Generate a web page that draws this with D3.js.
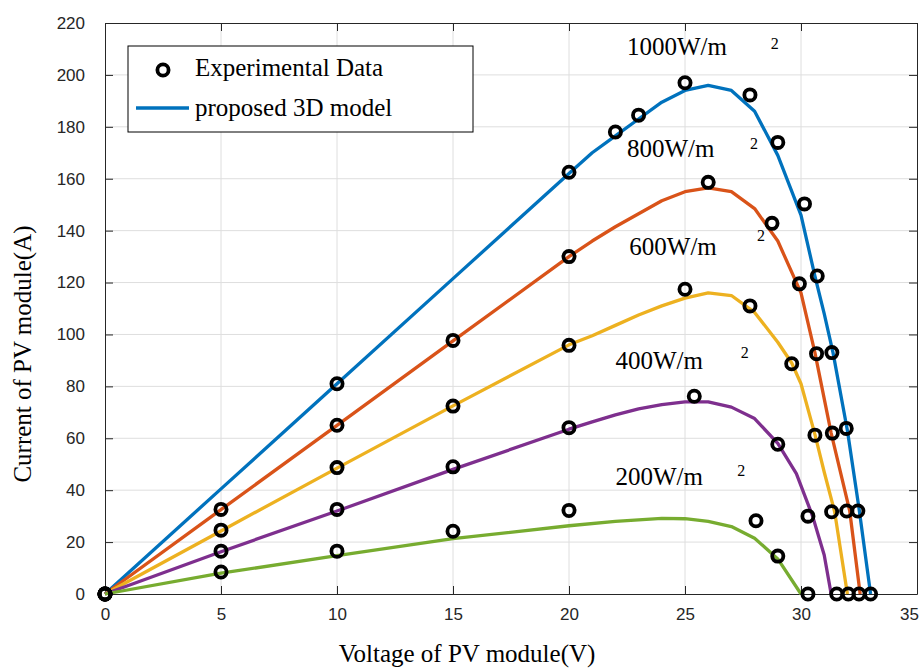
<!DOCTYPE html>
<html>
<head>
<meta charset="utf-8">
<script src="https://cdn.jsdelivr.net/npm/d3@7"></script>
<style>
  body { margin: 0; background: #fff; }
  .tick text { font-family: "Liberation Sans", Arial, sans-serif; font-size: 17px; fill: #262626; }
  .serif { font-family: "Liberation Serif", "Times New Roman", serif; fill: #000; }
</style>
</head>
<body>
<div id="chart"></div>
<script>
var svgWidth = 924;
var svgHeight = 668;

var margin = { top: 23, right: 7, bottom: 74, left: 105 };
var width = svgWidth - margin.left - margin.right;
var height = svgHeight - margin.top - margin.bottom;

// tick values
var xTicks = [0, 5, 10, 15, 20, 25, 30, 35];
var yTicks = [0, 20, 40, 60, 80, 100, 120, 140, 160, 180, 200, 220];

// irradiance levels
var levels = ["1000W/m", "800W/m", "600W/m", "400W/m", "200W/m"];
var colors = ["#0072BD", "#D95319", "#EDB120", "#7E2F8E", "#77AC30"];

// model curves [V, I]
var model1000 = [[0,0],[5,40.5],[10,81],[15,121.5],[20,162],[21,170],[22,176.5],[23,183],[24,189.5],[25,194],[26,196],[27,194],[28,186],[29,169],[30,146],[30.6,122.5],[31,108],[31.38,93],[32,63],[32.5,33],[33,0]];
var model800 = [[0,0],[5,32.5],[10,65],[15,97.5],[20,130],[21,136],[22,141.5],[23,146.5],[24,151.5],[25,155],[26,156.5],[27,155],[28,148.5],[29,136],[30,116],[30.6,93],[31.3,62],[32.1,32],[32.55,0]];
var model600 = [[0,0],[5,24.3],[10,48.5],[15,72.5],[20,96],[21,99.5],[22,103.5],[23,107.5],[24,111],[25,114],[26,116],[27,115],[28,108.5],[29,97],[29.6,89],[30,81],[30.6,61.5],[31,47],[31.45,31.7],[32,0]];
var model400 = [[0,0],[5,16.3],[10,32],[15,48],[20,63.5],[21,66.3],[22,69],[23,71.3],[24,73],[25,74],[26,74],[27,72],[28,67.6],[29,58],[29.8,46.4],[30.5,30],[31,15],[31.3,0]];
var model200 = [[0,0],[5,8],[10,14.8],[15,21.3],[20,26.3],[22,28],[24,29.1],[25,29],[26,28],[27,26],[28,21.5],[29,13.5],[30,0]];

// experimental points [V, I]
var exp1000 = [[0,0],[10,81],[20,162.5],[22,178],[23,184.5],[25,197],[27.8,192.3],[29,174],[30.15,150.3],[30.7,122.5],[31.33,93],[31.95,63.8],[32.45,32],[33,0]];
var exp800 = [[0,0],[5,32.6],[10,65],[15,97.7],[20,130],[26,158.6],[28.75,142.8],[29.93,119.5],[30.67,92.6],[31.35,62],[31.97,32],[32.5,0]];
var exp600 = [[0,0],[5,24.6],[10,48.7],[15,72.4],[20,95.8],[25,117.4],[27.8,111],[29.6,88.7],[30.6,61.2],[31.32,31.7],[32.04,0]];
var exp400 = [[0,0],[5,16.5],[10,32.6],[15,49],[20,64.1],[25.4,76.2],[29,57.7],[30.3,30],[31.54,0]];
var exp200 = [[0,0],[5,8.5],[10,16.5],[15,24.2],[20,32.2],[28.06,28.2],[29,14.6],[30.3,0]];

var models = [model1000, model800, model600, model400, model200];
var exps = [exp1000, exp800, exp600, exp400, exp200];

// label anchors in data units [V, I] for "xxxW/m" and its "2"
var labelPos = [[22.5, 207.5], [22.5, 168.5], [22.6, 130.5], [22.0, 86.5], [22.0, 42]];
var supPos = [[28.7, 210], [27.8, 171.5], [28.1, 136], [27.4, 91], [27.25, 45.5]];

var svg = d3.select("#chart")
  .append("svg")
  .attr("width", svgWidth)
  .attr("height", svgHeight);

var chartGroup = svg.append("g")
  .attr("transform", `translate(${margin.left}, ${margin.top})`);

var xLinearScale = d3.scaleLinear().domain([0, 35]).range([0, width]);
var yLinearScale = d3.scaleLinear().domain([0, 220]).range([height, 0]);

// grid
chartGroup.append("g")
  .selectAll("line")
  .data(xTicks.slice(1, -1))
  .enter()
  .append("line")
  .attr("x1", d => xLinearScale(d)).attr("x2", d => xLinearScale(d))
  .attr("y1", 0).attr("y2", height)
  .attr("stroke", "#dedede").attr("stroke-width", 1);

chartGroup.append("g")
  .selectAll("line")
  .data(yTicks.slice(1, -1))
  .enter()
  .append("line")
  .attr("x1", 0).attr("x2", width)
  .attr("y1", d => yLinearScale(d)).attr("y2", d => yLinearScale(d))
  .attr("stroke", "#dedede").attr("stroke-width", 1);

// axes
var bottomAxis = d3.axisBottom(xLinearScale).tickValues(xTicks).tickSizeInner(-8).tickSizeOuter(0).tickPadding(14);
var leftAxis = d3.axisLeft(yLinearScale).tickValues(yTicks).tickSizeInner(-8).tickSizeOuter(0).tickPadding(20);
var topAxis = d3.axisTop(xLinearScale).tickValues(xTicks).tickSizeInner(-8).tickSizeOuter(0).tickFormat("");
var rightAxis = d3.axisRight(yLinearScale).tickValues(yTicks).tickSizeInner(-8).tickSizeOuter(0).tickFormat("");

var xAxisG = chartGroup.append("g").attr("transform", `translate(0, ${height})`).call(bottomAxis);
[
  xAxisG,
  chartGroup.append("g").call(leftAxis),
  chartGroup.append("g").call(topAxis),
  chartGroup.append("g").attr("transform", `translate(${width}, 0)`).call(rightAxis)
].forEach(function(g) {
  g.selectAll("path, line").attr("stroke", "#262626").attr("stroke-width", 1);
});

// last x label sits a little inside the figure edge, as in the original
xAxisG.selectAll(".tick text")
  .filter(d => d === 35)
  .attr("dx", -8);

// model lines
var line = d3.line()
  .x(d => xLinearScale(d[0]))
  .y(d => yLinearScale(d[1]));

chartGroup.selectAll("path.model")
  .data(models)
  .enter()
  .append("path")
  .attr("class", "model")
  .attr("d", line)
  .attr("fill", "none")
  .attr("stroke", (d, i) => colors[i])
  .attr("stroke-width", 3.3)
  .attr("stroke-linejoin", "round");

// experimental circles
exps.forEach(function(pts) {
  chartGroup.selectAll(null)
    .data(pts)
    .enter()
    .append("circle")
    .attr("cx", d => xLinearScale(d[0]))
    .attr("cy", d => yLinearScale(d[1]))
    .attr("r", 5.6)
    .attr("fill", "none")
    .attr("stroke", "#000")
    .attr("stroke-width", 3.8);
});

// irradiance labels
chartGroup.selectAll("text.lvl")
  .data(levels)
  .enter()
  .append("text")
  .attr("class", "serif")
  .attr("x", (d, i) => xLinearScale(labelPos[i][0]))
  .attr("y", (d, i) => yLinearScale(labelPos[i][1]))
  .style("font-size", "25px")
  .text(d => d);

chartGroup.selectAll("text.sup")
  .data(levels)
  .enter()
  .append("text")
  .attr("class", "serif")
  .attr("x", (d, i) => xLinearScale(supPos[i][0]))
  .attr("y", (d, i) => yLinearScale(supPos[i][1]))
  .style("font-size", "16px")
  .text("2");

// legend
var legend = svg.append("g");
legend.append("rect")
  .attr("x", 128).attr("y", 46)
  .attr("width", 345).attr("height", 86)
  .attr("fill", "#fff")
  .attr("stroke", "#000")
  .attr("stroke-width", 1);
legend.append("circle")
  .attr("cx", 163).attr("cy", 70).attr("r", 5.6)
  .attr("fill", "none").attr("stroke", "#000").attr("stroke-width", 3.8);
legend.append("line")
  .attr("x1", 136).attr("x2", 189).attr("y1", 108).attr("y2", 108)
  .attr("stroke", colors[0]).attr("stroke-width", 3.3);
legend.append("text").attr("class", "serif")
  .attr("x", 195).attr("y", 76).style("font-size", "25px")
  .text("Experimental Data");
legend.append("text").attr("class", "serif")
  .attr("x", 195).attr("y", 116).style("font-size", "25px")
  .text("proposed 3D model");

// axis labels
svg.append("text")
  .attr("class", "serif")
  .attr("text-anchor", "middle")
  .attr("transform", "translate(467, 662)")
  .style("font-size", "25px")
  .text("Voltage of PV module(V)");

svg.append("text")
  .attr("class", "serif")
  .attr("text-anchor", "middle")
  .attr("transform", "translate(31, 354) rotate(-90)")
  .style("font-size", "25px")
  .text("Current of PV module(A)");
</script>
</body>
</html>
